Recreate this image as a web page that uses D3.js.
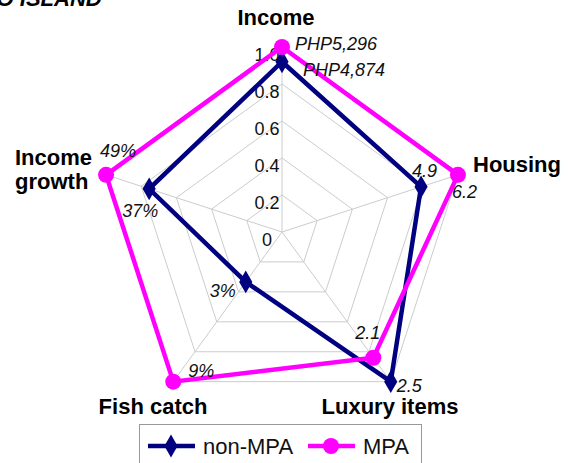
<!DOCTYPE html>
<html>
<head>
<meta charset="utf-8">
<script src="https://cdn.jsdelivr.net/npm/d3@7"></script>
<style>
  html, body { margin: 0; padding: 0; background: #fff; }
  svg { display: block; font-family: "Liberation Sans", Arial, sans-serif; }
</style>
</head>
<body>
<svg id="chart" width="568" height="463"></svg>
<script>
// Indicators around the radar, clockwise from the top
const categories = ["Income", "Housing", "Luxury items", "Fish catch", "Income growth"];
// Raw values per indicator
const nonMpaValues = [4874, 4.9, 2.5, 3, 37];
const mpaValues    = [5296, 6.2, 2.1, 9, 49];
// Printed value labels
const nonMpaLabels = ["PHP4,874", "4.9", "2.5", "3%", "37%"];
const mpaLabels    = ["PHP5,296", "6.2", "2.1", "9%", "49%"];
// Radial axis ticks
const tickValues = [0, 0.2, 0.4, 0.6, 0.8, 1.0];
const tickLabels = ["0", "0.2", "0.4", "0.6", "0.8", "1.0"];
const seriesNames = ["non-MPA", "MPA"];

const svg = d3.select("#chart");
const cx = 282, cy = 232, R = 185;
const NAVY = "#000080", MAGENTA = "#ff00ff", GRID = "#cccccc";

// Each indicator is scaled to the larger of the two sites
const axisMax = categories.map((c, i) => Math.max(nonMpaValues[i], mpaValues[i]));
const r = d3.scaleLinear().domain([0, 1]).range([0, R]);
const angle = i => -Math.PI / 2 + i * 2 * Math.PI / categories.length;
const pt = (i, v) => [cx + r(v) * Math.cos(angle(i)), cy + r(v) * Math.sin(angle(i))];

// Title text running off the top-left corner of the page
svg.append("text").attr("x", -34).attr("y", 6)
  .attr("font-size", 22).attr("font-weight", "bold").attr("font-style", "italic")
  .text("APO ISLAND");

// Grid rings
const g = svg.append("g");
tickValues.slice(1).forEach(t => {
  g.append("path")
    .attr("d", d3.line()(categories.map((c, i) => pt(i, t))) + "Z")
    .attr("fill", "none").attr("stroke", GRID).attr("stroke-width", 1);
});
// Spokes
categories.forEach((c, i) => {
  const [x, y] = pt(i, 1);
  g.append("line").attr("x1", cx).attr("y1", cy).attr("x2", x).attr("y2", y)
    .attr("stroke", GRID).attr("stroke-width", 1);
});

// Radial tick labels along the top spoke
tickValues.forEach((t, k) => {
  svg.append("text").attr("x", cx - 15).attr("y", cy - r(t) + 14)
    .attr("text-anchor", "middle").attr("font-size", 18).attr("fill", "#111")
    .text(tickLabels[k]);
});

// Series lines and markers
const lineGen = d3.line();
function series(values, color) {
  const pts = values.map((v, i) => pt(i, v / axisMax[i]));
  svg.append("path").attr("d", lineGen(pts) + "Z")
    .attr("fill", "none").attr("stroke", color).attr("stroke-width", 4.5)
    .attr("stroke-linejoin", "miter");
  return pts;
}
const nonPts = series(nonMpaValues, NAVY);
svg.selectAll(".dmark").data(nonPts).join("path")
  .attr("transform", d => `translate(${d[0]},${d[1]})`)
  .attr("d", d3.symbol(d3.symbolDiamond, 150)())
  .attr("fill", NAVY);
const mpaPts = series(mpaValues, MAGENTA);
svg.selectAll(".cmark").data(mpaPts).join("circle")
  .attr("cx", d => d[0]).attr("cy", d => d[1]).attr("r", 8)
  .attr("fill", MAGENTA);

// Value labels, offset from their markers
const nonOff = [[21, 14], [-9, -10], [6, 10], [-36, 15], [-27, 28]];
const mpaOff = [[13, 3], [-6, 23], [-18, -19], [15, -5], [-6, -18]];
function valueLabels(pts, labels, off) {
  pts.forEach((p, i) => {
    svg.append("text").attr("x", p[0] + off[i][0]).attr("y", p[1] + off[i][1])
      .attr("font-size", 18).attr("font-style", "italic").attr("fill", "#111")
      .text(labels[i]);
  });
}
valueLabels(nonPts, nonMpaLabels, nonOff);
valueLabels(mpaPts, mpaLabels, mpaOff);

// Category labels
const catPos = [
  { x: 276, y: 25, anchor: "middle" },
  { x: 473, y: 172, anchor: "start" },
  { x: 390, y: 414, anchor: "middle" },
  { x: 153, y: 414, anchor: "middle" },
  { x: 15, y: 165, anchor: "start" }
];
categories.forEach((c, i) => {
  const p = catPos[i];
  const t = svg.append("text").attr("x", p.x).attr("y", p.y)
    .attr("text-anchor", p.anchor).attr("font-size", 22).attr("font-weight", "bold");
  const parts = c === "Income growth" ? ["Income", "growth"] : [c];
  parts.forEach((s, k) => t.append("tspan").attr("x", p.x).attr("dy", k ? 24 : 0).text(s));
});

// Legend
const lg = svg.append("g");
lg.append("rect").attr("x", 139.5).attr("y", 424.5).attr("width", 282).attr("height", 45)
  .attr("fill", "#fff").attr("stroke", "#999").attr("stroke-width", 1);
const legendItems = [
  { name: seriesNames[0], color: NAVY, x0: 148, shape: "diamond" },
  { name: seriesNames[1], color: MAGENTA, x0: 308, shape: "circle" }
];
legendItems.forEach(it => {
  const ly = 446;
  lg.append("line").attr("x1", it.x0).attr("x2", it.x0 + 47).attr("y1", ly).attr("y2", ly)
    .attr("stroke", it.color).attr("stroke-width", 4.5);
  if (it.shape === "diamond") {
    lg.append("path").attr("transform", `translate(${it.x0 + 23},${ly})`)
      .attr("d", d3.symbol(d3.symbolDiamond, 150)()).attr("fill", it.color);
  } else {
    lg.append("circle").attr("cx", it.x0 + 23).attr("cy", ly).attr("r", 8).attr("fill", it.color);
  }
  lg.append("text").attr("x", it.x0 + 55).attr("y", ly + 8)
    .attr("font-size", 22).attr("fill", "#111").text(it.name);
});
</script>
</body>
</html>
